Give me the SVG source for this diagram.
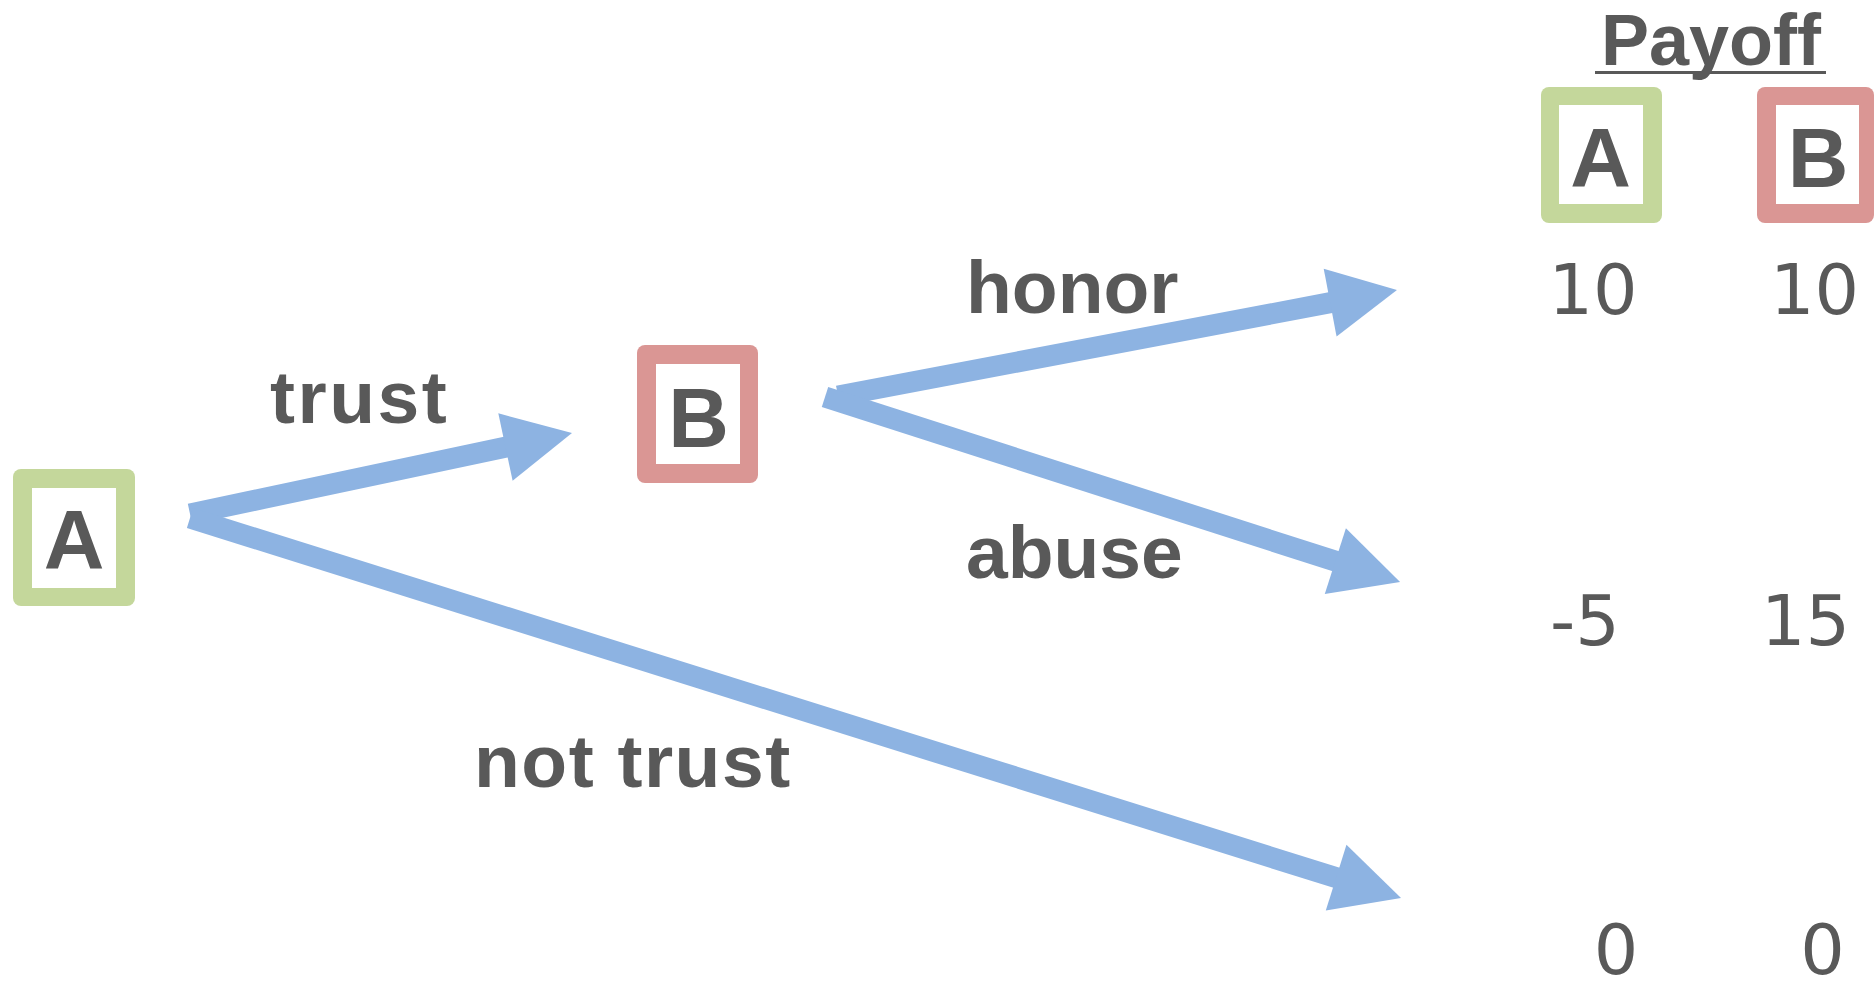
<svg xmlns="http://www.w3.org/2000/svg" width="1875" height="981" viewBox="0 0 1875 981">
  <defs>
    <style>
      .label { font-family: "Liberation Sans", Arial, sans-serif; font-weight: bold; fill: #595959; }
      .edge-label { font-size: 75px; }
      .box-letter { font-size: 84px; text-anchor: middle; }
      .num { font-family: "DejaVu Sans", "Liberation Sans", sans-serif; font-size: 70px; fill: #595959; text-anchor: middle; }
      .edge { fill: none; stroke: #8DB3E2; stroke-width: 21; stroke-linecap: butt; marker-end: url(#head); }
      .frame-a { fill: #C4D79B; }
      .frame-b { fill: #DA9694; }
      .inner { fill: #FFFFFF; }
    </style>
    <marker id="head" markerUnits="userSpaceOnUse" viewBox="-5 -40 80 80" refX="3" refY="0" markerWidth="80" markerHeight="80" orient="auto" overflow="visible">
      <path d="M0,-34.5 L68,0 L0,34.5 Z" fill="#8DB3E2"/>
    </marker>
  </defs>

  <rect width="1875" height="981" fill="#FFFFFF"/>

  <!-- connectors -->
  <g id="connectors">
    <path id="edge-trust" class="edge" d="M190,514 L508.4,446.5"/>
    <path id="edge-not-trust" class="edge" d="M190,518 L1339,878.6"/>
    <path id="edge-honor" class="edge" d="M838,396 L1333.1,302.1"/>
    <path id="edge-abuse" class="edge" d="M825,397 L1338.2,562.1"/>
  </g>

  <!-- edge labels -->
  <g id="labels">
    <text class="label edge-label" x="270" y="423" letter-spacing="2.5">trust</text>
    <text class="label edge-label" x="966" y="313">honor</text>
    <text class="label edge-label" x="966" y="578">abuse</text>
    <text class="label edge-label" x="474" y="787" letter-spacing="1.5">not trust</text>
  </g>

  <!-- player A (first mover) -->
  <g id="node-a">
    <rect class="frame-a" x="13" y="469" width="122" height="137" rx="8"/>
    <rect class="inner" x="32" y="488" width="84" height="100"/>
    <text class="label box-letter" x="74" y="569">A</text>
  </g>

  <!-- player B (second mover) -->
  <g id="node-b">
    <rect class="frame-b" x="637" y="345" width="121" height="138" rx="8"/>
    <rect class="inner" x="656" y="364" width="84" height="100"/>
    <text class="label box-letter" x="698.5" y="447">B</text>
  </g>

  <!-- payoff header -->
  <g id="payoff-header">
    <text class="label" x="1711" y="65" font-size="72" text-anchor="middle">Payoff</text>
    <line x1="1595" y1="72.5" x2="1826" y2="72.5" stroke="#595959" stroke-width="3"/>
  </g>

  <g id="payoff-a">
    <rect class="frame-a" x="1541" y="87" width="121" height="136" rx="8"/>
    <rect class="inner" x="1559" y="105" width="84" height="99"/>
    <text class="label box-letter" x="1600.5" y="187">A</text>
  </g>

  <g id="payoff-b">
    <rect class="frame-b" x="1757" y="87" width="117" height="136" rx="8"/>
    <rect class="inner" x="1776" y="105" width="83" height="99"/>
    <text class="label box-letter" x="1818" y="187">B</text>
  </g>

  <!-- payoff values -->
  <g id="payoffs">
    <text class="num" x="1593" y="314">10</text>
    <text class="num" x="1814.5" y="314">10</text>
    <text class="num" x="1585" y="645">-5</text>
    <text class="num" x="1805.5" y="645">15</text>
    <text class="num" x="1616" y="974">0</text>
    <text class="num" x="1822.5" y="974">0</text>
  </g>
</svg>
